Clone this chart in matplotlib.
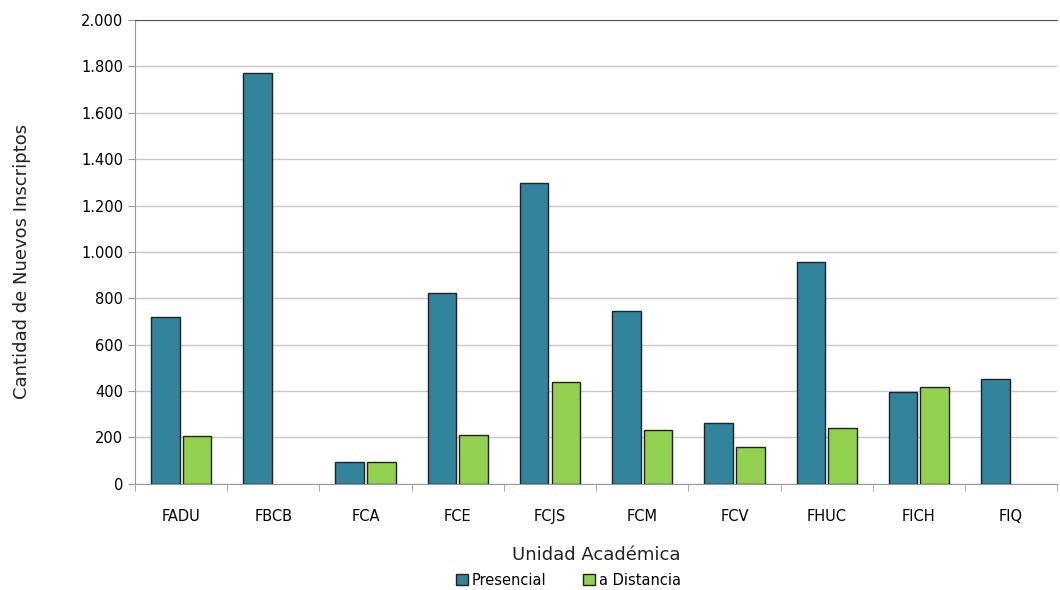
import numpy as np
import matplotlib.pyplot as plt
from matplotlib.ticker import FuncFormatter, MultipleLocator

unidades = ['FADU', 'FBCB', 'FCA', 'FCE', 'FCJS', 'FCM', 'FCV', 'FHUC', 'FICH', 'FIQ']
presencial = [718, 1770, 95, 822, 1298, 746, 263, 955, 395, 452]
distancia = [206, 0, 95, 211, 440, 233, 160, 240, 418, 0]

col_pres = '#31849b'
col_dist = '#92d050'

fig = plt.figure(figsize=(10.6, 5.9), dpi=100)
ax = fig.add_axes([0.1274, 0.18, 0.87, 0.786])

x = np.arange(len(unidades))
w = 0.31
# zero values are not drawn (no flat outline)
pres = np.where(np.array(presencial) > 0, presencial, np.nan)
dist = np.where(np.array(distancia) > 0, distancia, np.nan)
ax.bar(x - w / 2 - 0.017, pres, w, color=col_pres, edgecolor='#222222', linewidth=1.0, label='Presencial', zorder=3)
ax.bar(x + w / 2 + 0.017, dist, w, color=col_dist, edgecolor='#222222', linewidth=1.0, label='a Distancia', zorder=3)

ax.set_xlim(-0.5, len(unidades) - 0.5)
ax.set_ylim(0, 2000)
ax.yaxis.set_major_locator(MultipleLocator(200))
ax.yaxis.set_major_formatter(FuncFormatter(lambda v, p: f'{int(v):,}'.replace(',', '.')))
ax.grid(axis='y', color='#c8c8c8', linewidth=1.0, zorder=0)

ax.set_xticks(x)
ax.set_xticklabels(unidades)
ax.tick_params(axis='x', length=0, pad=18, labelsize=10.5)
ax.set_xticks(np.arange(-0.5, len(unidades)), minor=True)
ax.tick_params(axis='x', which='minor', length=5, color='#999999')
ax.tick_params(axis='y', length=5, color='#999999', labelsize=10.5)

ax.spines['right'].set_visible(False)
ax.spines['top'].set_color('#555555')
ax.spines['left'].set_color('#999999')
ax.spines['bottom'].set_color('#999999')

ax.set_xlabel('Unidad Académica', fontsize=13, labelpad=16, color='#222222')
ax.set_ylabel('Cantidad de Nuevos Inscriptos', fontsize=13, color='#222222')
ax.yaxis.set_label_coords(-0.113, 0.48)

ax.legend(loc='upper center', bbox_to_anchor=(0.47, -0.163), ncol=2, frameon=False,
          fontsize=10.5, handlelength=0.8, handleheight=0.8, columnspacing=2.5, handletextpad=0.3)

fig.savefig('out.png', dpi=100)
